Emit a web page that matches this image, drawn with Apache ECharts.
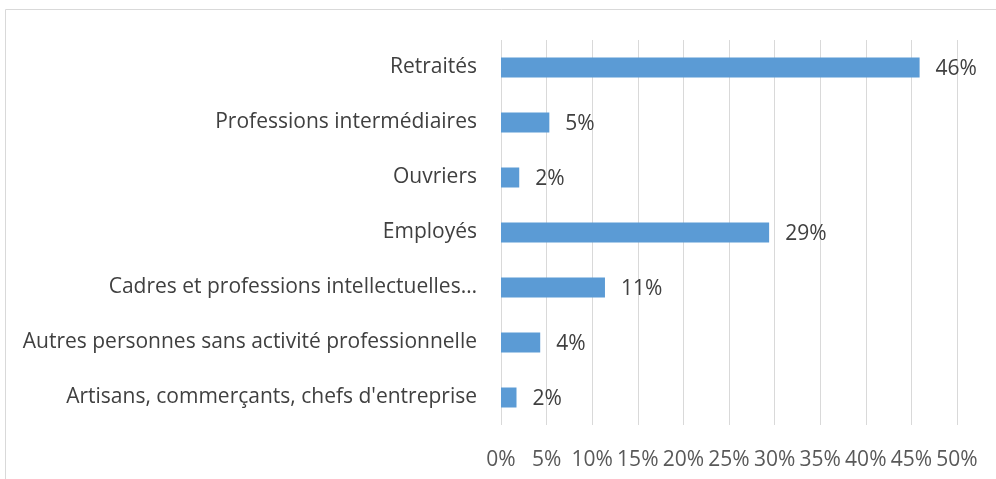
<!DOCTYPE html>
<html>
<head>
<meta charset="utf-8">
<script src="https://cdn.jsdelivr.net/npm/echarts@6/dist/echarts.min.js"></script>
<style>
  html, body { margin: 0; padding: 0; background: #fff; }
  #chart { width: 996px; height: 479px; }
</style>
</head>
<body>
<div id="chart"></div>
<script>
// categories listed bottom to top, as in the source sheet
const categories = [
  "Artisans, commerçants, chefs d'entreprise",
  'Autres personnes sans activité professionnelle',
  'Cadres et professions intellectuelles…',
  'Employés',
  'Ouvriers',
  'Professions intermédiaires',
  'Retraités'
]
const shares = [1.7, 4.3, 11.4, 29.4, 2.0, 5.3, 45.9]
const tickMin = 0
const tickMax = 50
const tickStep = 5

const chart = echarts.init(document.getElementById('chart'))
chart.setOption({
  animation: false,
  textStyle: { fontFamily: 'Open Sans' },
  graphic: [
    {
      type: 'rect',
      shape: { x: 5.5, y: 9.5, width: 1100, height: 600 },
      style: { fill: 'none', stroke: '#d9d9d9', lineWidth: 1 },
      silent: true
    }
  ],
  grid: {
    left: 501,
    right: 39,
    top: 40,
    bottom: 54
  },
  xAxis: {
    type: 'value',
    min: tickMin,
    max: tickMax,
    interval: tickStep,
    axisLine: { show: false },
    axisTick: { show: false },
    splitLine: { show: true, lineStyle: { color: '#d9d9d9', width: 1 } },
    axisLabel: {
      color: '#595959',
      fontSize: 21,
      margin: 25,
      formatter: v => v + '%'
    }
  },
  yAxis: {
    type: 'category',
    data: categories,
    axisLine: { show: false },
    axisTick: { show: false },
    axisLabel: {
      color: '#404040',
      fontSize: 21,
      margin: 24,
      padding: [4, 0, 0, 0]
    }
  },
  series: [
    {
      type: 'bar',
      data: shares,
      barWidth: 20,
      itemStyle: { color: '#5b9bd5' },
      label: {
        show: true,
        position: 'right',
        distance: 16,
        offset: [0, 2],
        color: '#404040',
        fontSize: 21,
        formatter: p => Math.round(p.value) + '%'
      }
    }
  ]
})
</script>
</body>
</html>
